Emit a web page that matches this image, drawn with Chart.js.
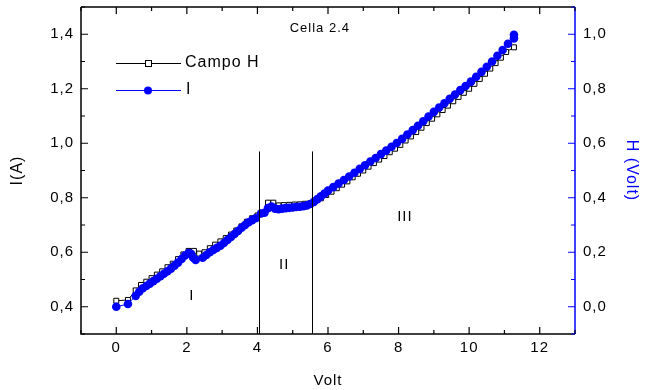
<!DOCTYPE html>
<html>
<head>
<meta charset="utf-8">
<script src="https://cdn.jsdelivr.net/npm/chart.js@4.4.1/dist/chart.umd.min.js"></script>
<style>
html,body{margin:0;padding:0;background:#fff;}
#wrap{width:652px;height:390px;}
</style>
</head>
<body>
<div id="wrap"><canvas id="c" width="652" height="390"></canvas></div>
<script>
// ---- data ----
const voltI = [0.00,0.33,0.55,0.65,0.75,0.85,0.95,1.05,1.15,1.25,1.35,1.45,1.55,1.65,1.75,1.85,1.95,2.05,2.12,2.18,2.25,2.45,2.55,2.65,2.75,2.85,2.95,3.05,3.15,3.25,3.35,3.45,3.55,3.65,3.75,3.85,3.95,4.10,4.20,4.30,4.40,4.50,4.60,4.70,4.80,4.90,5.00,5.10,5.20,5.30,5.40,5.50,5.60,5.70,5.80,5.90,6.00,6.15,6.30,6.45,6.60,6.75,6.90,7.05,7.20,7.35,7.50,7.65,7.80,7.95,8.10,8.25,8.40,8.55,8.70,8.85,9.00,9.15,9.30,9.45,9.60,9.75,9.90,10.05,10.20,10.35,10.50,10.65,10.80,10.95,11.10,11.27,11.27];
const currentI = [0.400,0.410,0.440,0.455,0.468,0.476,0.485,0.494,0.503,0.512,0.521,0.530,0.540,0.551,0.562,0.575,0.588,0.597,0.594,0.580,0.572,0.580,0.590,0.600,0.608,0.616,0.624,0.634,0.645,0.656,0.667,0.678,0.690,0.700,0.710,0.718,0.725,0.742,0.745,0.762,0.768,0.760,0.758,0.760,0.762,0.763,0.764,0.766,0.767,0.769,0.772,0.777,0.785,0.795,0.805,0.815,0.826,0.839,0.852,0.865,0.878,0.892,0.906,0.919,0.933,0.946,0.960,0.973,0.987,1.001,1.016,1.032,1.048,1.064,1.081,1.098,1.115,1.131,1.147,1.163,1.179,1.195,1.210,1.226,1.244,1.262,1.281,1.300,1.321,1.342,1.365,1.385,1.398];
const voltH = [0.00,0.33,0.55,0.70,0.85,1.00,1.15,1.30,1.45,1.60,1.75,1.90,2.05,2.20,2.35,2.50,2.65,2.80,2.95,3.10,3.25,3.40,3.55,3.70,3.85,4.00,4.15,4.30,4.45,4.60,4.75,4.90,5.05,5.20,5.35,5.50,5.65,5.80,5.95,6.10,6.25,6.40,6.55,6.70,6.85,7.00,7.15,7.30,7.45,7.60,7.75,7.90,8.05,8.20,8.35,8.50,8.65,8.80,8.95,9.10,9.25,9.40,9.55,9.70,9.85,10.00,10.15,10.30,10.45,10.60,10.75,10.90,11.05,11.27];
const campoH = [0.022,0.025,0.060,0.080,0.092,0.105,0.118,0.130,0.145,0.158,0.175,0.192,0.205,0.205,0.195,0.200,0.215,0.228,0.240,0.252,0.265,0.280,0.295,0.312,0.325,0.335,0.345,0.382,0.382,0.372,0.373,0.374,0.375,0.376,0.378,0.380,0.390,0.398,0.410,0.422,0.435,0.448,0.460,0.475,0.488,0.500,0.514,0.527,0.540,0.553,0.567,0.580,0.594,0.610,0.625,0.641,0.657,0.674,0.690,0.706,0.722,0.738,0.754,0.770,0.785,0.800,0.818,0.836,0.855,0.874,0.894,0.914,0.935,0.952];
const xTicks = [0,2,4,6,8,10,12];
const xMinor = [-1,0,1,2,3,4,5,6,7,8,9,10,11,12,13];
const yTicks = [0.4,0.6,0.8,1.0,1.2,1.4];
const yMinor = [0.3,0.4,0.5,0.6,0.7,0.8,0.9,1.0,1.1,1.2,1.3,1.4,1.5];
const y2Ticks = [0.0,0.2,0.4,0.6,0.8,1.0];
const y2Minor = [-0.1,0.0,0.1,0.2,0.3,0.4,0.5,0.6,0.7,0.8,0.9,1.0,1.1];
const regionLines = [4.04, 5.54];
const regionLabels = [{t:'I',x:2.14,y:0.44},{t:'II',x:4.76,y:0.555},{t:'III',x:8.18,y:0.73}];
const chartTitle = 'Cella 2.4';
const seriesNames = ['Campo H','I'];

const BLUE = 'rgb(0,0,255)';
const FONT = '"Liberation Sans", Arial, sans-serif';
const fmt = v => (Math.round(v*10)/10).toFixed(1).replace('.', ',');

const decor = {
  id:'decor',
  beforeDraw(chart){ chart.ctx.letterSpacing = '1px'; },
  afterDraw(chart){
    const ctx = chart.ctx, a = chart.chartArea;
    const sx = chart.scales.x, sy = chart.scales.y, sy2 = chart.scales.y2;
    ctx.save();
    ctx.letterSpacing = '0px';
    // frame
    ctx.lineWidth = 1.5;
    ctx.strokeStyle = '#000';
    ctx.beginPath();
    ctx.moveTo(a.left, a.top); ctx.lineTo(a.right, a.top);
    ctx.moveTo(a.left, a.top); ctx.lineTo(a.left, a.bottom); ctx.lineTo(a.right, a.bottom);
    ctx.stroke();
    ctx.strokeStyle = BLUE;
    ctx.beginPath(); ctx.moveTo(a.right, a.top); ctx.lineTo(a.right, a.bottom); ctx.stroke();
    // inner ticks
    ctx.lineWidth = 1.2;
    ctx.strokeStyle = '#000';
    ctx.beginPath();
    xMinor.forEach(v=>{
      const p = sx.getPixelForValue(v), L = xTicks.includes(v)?7:4;
      ctx.moveTo(p, a.bottom); ctx.lineTo(p, a.bottom-L);
      ctx.moveTo(p, a.top); ctx.lineTo(p, a.top+L);
    });
    yMinor.forEach(v=>{
      const p = sy.getPixelForValue(v), L = yTicks.some(t=>Math.abs(t-v)<1e-6)?7:4;
      ctx.moveTo(a.left, p); ctx.lineTo(a.left+L, p);
    });
    ctx.stroke();
    ctx.strokeStyle = BLUE;
    ctx.beginPath();
    y2Minor.forEach(v=>{
      const p = sy2.getPixelForValue(v), L = y2Ticks.some(t=>Math.abs(t-v)<1e-6)?7:4;
      ctx.moveTo(a.right, p); ctx.lineTo(a.right-L, p);
    });
    ctx.stroke();
    // region lines
    ctx.strokeStyle = '#000'; ctx.lineWidth = 1;
    ctx.beginPath();
    regionLines.forEach(v=>{
      const p = Math.round(sx.getPixelForValue(v))+0.5;
      ctx.moveTo(p, sy.getPixelForValue(0.97)); ctx.lineTo(p, a.bottom);
    });
    ctx.stroke();
    // texts
    ctx.fillStyle = '#000';
    ctx.letterSpacing = '1px';
    ctx.textAlign = 'center'; ctx.textBaseline = 'middle';
    ctx.font = '15px ' + FONT;
    regionLabels.forEach(r=> ctx.fillText(r.t, sx.getPixelForValue(r.x), sy.getPixelForValue(r.y)));
    ctx.font = '13px ' + FONT;
    ctx.fillText(chartTitle, sx.getPixelForValue(5.77), sy.getPixelForValue(1.42));
    // legend
    ctx.lineWidth = 1;
    ctx.strokeStyle = '#000';
    ctx.beginPath(); ctx.moveTo(116, 63.5); ctx.lineTo(181, 63.5); ctx.stroke();
    ctx.fillStyle = '#fff'; ctx.fillRect(145, 60, 7, 7);
    ctx.strokeRect(145.5, 60.5, 6, 6);
    ctx.strokeStyle = BLUE;
    ctx.beginPath(); ctx.moveTo(116, 90.5); ctx.lineTo(181, 90.5); ctx.stroke();
    ctx.fillStyle = BLUE; ctx.beginPath(); ctx.arc(148, 90.5, 4, 0, Math.PI*2); ctx.fill();
    ctx.fillStyle = '#000';
    ctx.textAlign = 'left';
    ctx.font = '16px ' + FONT;
    ctx.fillText(seriesNames[0], 185, 63);
    ctx.fillText(seriesNames[1], 186, 90);
    ctx.restore();
  }
};

const pts = (xs, ys) => xs.map((x,i)=>({x, y: ys[i]}));
const noPadV = s => { s.paddingTop = 0; s.paddingBottom = 0; };

new Chart(document.getElementById('c'), {
  type: 'line',
  data: {
    datasets: [
      { label: seriesNames[1], data: pts(voltI, currentI), yAxisID: 'y', order: 0,
        borderColor: BLUE, borderWidth: 1, backgroundColor: BLUE,
        pointRadius: 4.3, pointBackgroundColor: BLUE, pointBorderColor: BLUE, pointBorderWidth: 0,
        tension: 0 },
      { label: seriesNames[0], data: pts(voltH, campoH), yAxisID: 'y2', order: 1,
        borderColor: '#000', borderWidth: 1, backgroundColor: '#fff',
        pointStyle: 'rect', pointRadius: 3.5, pointBackgroundColor: '#fff', pointBorderColor: '#000', pointBorderWidth: 1,
        tension: 0 }
    ]
  },
  options: {
    responsive: false, animation: false, maintainAspectRatio: false,
    layout: { padding: { top: 7, left: 0, right: 11, bottom: 0 } },
    plugins: { legend: { display: false }, tooltip: { enabled: false } },
    scales: {
      x: { type: 'linear', position: 'bottom', min: -1, max: 13,
        afterBuildTicks: s => { s.ticks = xTicks.map(v=>({value:v})); },
        afterFit: s => { s.height = 56; s.paddingLeft = 0; s.paddingRight = 0; },
        grid: { display: false, drawTicks: false }, border: { display: false },
        ticks: { color: '#000', font: { family: FONT, size: 15 }, padding: 5, maxRotation: 0, autoSkip: false,
                 callback: v => String(v) },
        title: { display: true, text: 'Volt', color: '#000', font: { family: FONT, size: 15 }, padding: { top: 10, bottom: 0 } } },
      y: { type: 'linear', position: 'left', min: 0.3, max: 1.5,
        afterBuildTicks: s => { s.ticks = yTicks.map(v=>({value:v})); },
        afterFit: s => { s.width = 81; noPadV(s); },
        grid: { display: false, drawTicks: false }, border: { display: false },
        ticks: { color: '#000', font: { family: FONT, size: 15 }, padding: 7, autoSkip: false, callback: v => fmt(v) },
        title: { display: true, text: 'I(A)', color: '#000', font: { family: FONT, size: 16 }, padding: { top: 8, bottom: 0 } } },
      y2: { type: 'linear', position: 'right', min: -0.1, max: 1.1,
        afterBuildTicks: s => { s.ticks = y2Ticks.map(v=>({value:v})); },
        afterFit: s => { s.width = 66; noPadV(s); },
        grid: { display: false, drawTicks: false }, border: { display: false },
        ticks: { color: '#000', font: { family: FONT, size: 15 }, padding: 8, autoSkip: false, callback: v => fmt(v) },
        title: { display: true, text: 'H (Volt)', color: BLUE, font: { family: FONT, size: 16 }, padding: { top: 0, bottom: 4 } } }
    }
  },
  plugins: [decor]
});
</script>
</body>
</html>
